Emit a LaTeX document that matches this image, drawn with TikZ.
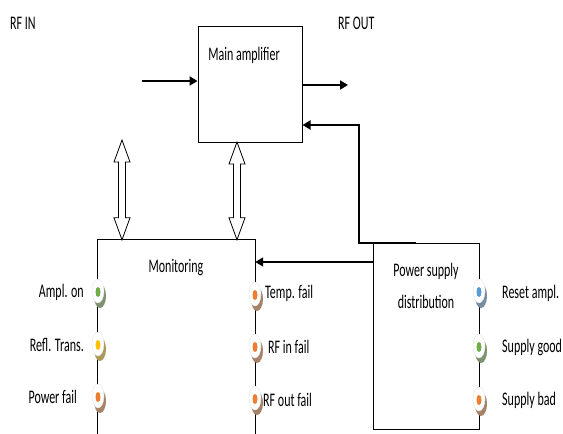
\documentclass[tikz,border=0pt]{standalone}
\usepackage{fontspec}
\setmainfont{Carlito}
\usetikzlibrary{arrows.meta, calc, shapes.geometric}
\definecolor{ledgreen}{RGB}{112,173,71}
\definecolor{ledgold}{RGB}{255,192,0}
\definecolor{ledorange}{RGB}{237,125,49}
\definecolor{ledblue}{RGB}{91,155,213}

% text of the drawing is stretched upwards
\newcommand{\tallt}[1]{\scalebox{1}[1.6]{#1}}

% one indicator lamp: name, position, colour
\newcommand{\led}[3]{%
  \node[lamp, fill=#3!50!black!65] (#1s) at ($(#2)+(2,5)$) {};
  \node[lamp, fill=white, draw=gray!20, line width=0.4pt] (#1) at (#2) {};
  \node[ellipse, fill=#3, inner sep=0pt, minimum width=5pt, minimum height=10pt] (#1d) at ($(#1)+(0,1)$) {};
}

% hollow two-headed arrow: top point, bottom point
\newcommand{\biarrow}[2]{%
  \draw[hollow] (#1) -- ++(8,22) -- ++(-4.5,0) -- ($(#2)+(3.5,-22)$) -- ++(4.5,0)
    -- (#2) -- ++(-8,-22) -- ++(4.5,0) -- ($(#1)+(-3.5,22)$) -- ++(-4.5,0) -- cycle;
}

\tikzset{
  lbl/.style={font=\fontsize{12}{32}\selectfont, inner sep=0pt},
  box/.style={draw, line width=1pt, inner sep=0pt},
  arr/.style={-{Triangle[length=8pt,width=9pt]}, line width=1.8pt},
  hollow/.style={draw, line width=0.8pt, fill=white, line join=miter},
  lamp/.style={ellipse, inner sep=0pt, minimum width=12pt, minimum height=24pt},
}

\begin{document}
\begin{tikzpicture}[x=1pt, y=-1pt]

\path[use as bounding box] (0,0) rectangle (563,434);

% Main amplifier
\node[box, minimum width=104pt, minimum height=116pt] (amp) at (250,84) {};
\draw[line width=1.8pt] (amp.south west) -- (amp.south east);
\node[lbl] (amptxt) at (244,55) {\tallt{Main amplifier}};

% RF in and out
\node[lbl, anchor=west] (rfintxt) at (10,23) {\tallt{RF IN}};
\node[lbl, anchor=west] (rfouttxt) at (338,23) {\tallt{RF OUT}};
\coordinate (rfin) at (142,81);
\coordinate (rfout) at (348,85);
\draw[arr] (rfin) -- (rfin -| amp.west);
\draw[arr] (rfout -| amp.east) -- (rfout);

% Monitoring (open at the bottom)
\node[inner sep=0pt, minimum width=157pt, minimum height=194pt] (mon) at (176.5,337) {};
\draw[line width=0.9pt] (mon.south west) |- (mon.north) -| (mon.south east);
\node[lbl] (montxt) at (176,268) {\tallt{Monitoring}};

% Power supply distribution
\node[box, minimum width=106pt, minimum height=186pt] (ps) at (426,336) {};
\node[lbl, align=center] (pstxt) at (426,286) {\tallt{Power supply}\\\tallt{distribution}};

% Links between the blocks
\coordinate (monin) at (373,262);
\draw[arr] (monin) -- (monin -| mon.east);
\coordinate (fbtop) at (359,125);
\coordinate (fbbot) at (416,243);
\draw[arr] (fbbot) -| (fbtop) -- (fbtop -| amp.east);

\coordinate (lnkAtop) at (122,140);
\coordinate (lnkAbot) at (lnkAtop |- mon.north);
\coordinate (lnkBtop) at (237,142);
\coordinate (lnkBbot) at (lnkBtop |- mon.north);
\biarrow{lnkAtop}{lnkAbot}
\biarrow{lnkBtop}{lnkBbot}

% Lamps of the monitoring
\led{amplon}{98,291}{ledgreen}
\led{refl}{98,344}{ledgold}
\led{pwrfail}{98,396}{ledorange}
\led{tempfail}{255,294}{ledorange}
\led{rfinfail}{255,346}{ledorange}
\led{rfoutfail}{255,398}{ledorange}

\node[lbl, anchor=east] (amplontxt) at (84,292) {\tallt{Ampl. on}};
\node[lbl, anchor=east] (refltxt) at (84,345) {\tallt{Refl. Trans.}};
\node[lbl, anchor=east] (pwrfailtxt) at (77,397) {\tallt{Power fail}};
\node[lbl, anchor=west] (tempfailtxt) at (265,293) {\tallt{Temp. fail}};
\node[lbl, anchor=west] (rfinfailtxt) at (268,347) {\tallt{RF in fail}};
\node[lbl, anchor=west] (rfoutfailtxt) at (263,400) {\tallt{RF out fail}};

% Lamps of the power supply
\led{reset}{479,291}{ledblue}
\led{supgood}{479,346}{ledgreen}
\led{supbad}{479,399}{ledorange}

\node[lbl, anchor=west] (resettxt) at (502,293) {\tallt{Reset ampl.}};
\node[lbl, anchor=west] (supgoodtxt) at (502,347) {\tallt{Supply good}};
\node[lbl, anchor=west] (supbadtxt) at (502,400) {\tallt{Supply bad}};

\end{tikzpicture}
\end{document}
